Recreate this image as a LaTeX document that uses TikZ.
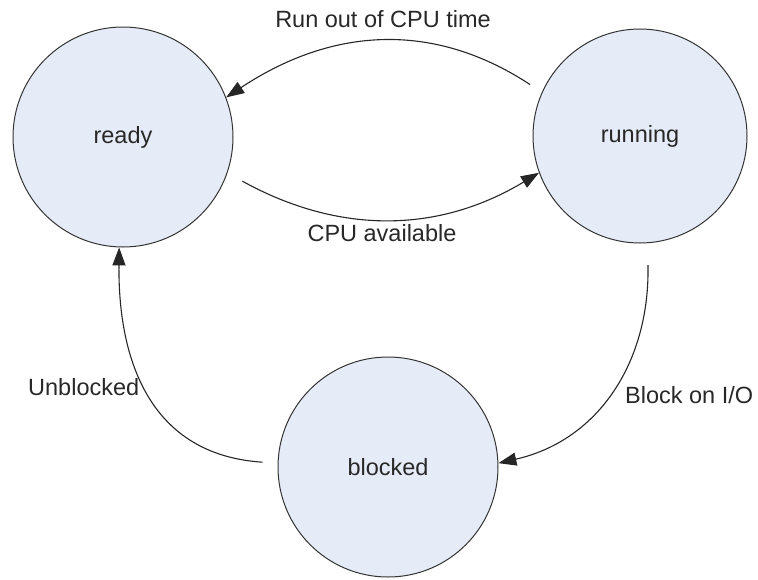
\documentclass[tikz,border=0pt]{standalone}
\usepackage{fontspec}
\setmainfont{Liberation Sans}
\usetikzlibrary{arrows.meta}
\definecolor{statefill}{RGB}{230,236,247}
\definecolor{txt}{RGB}{40,40,40}
\tikzset{
  state/.style={circle, draw=black!80, line width=1pt, fill=statefill, minimum size=220pt, inner sep=0pt, text=txt, font=\fontsize{23.5}{26}\selectfont},
  conn/.style={draw=black!85, line width=1.1pt, -{Triangle[length=18pt,width=13pt]}},
  lbl/.style={text=txt, font=\fontsize{23.5}{26}\selectfont, inner sep=0pt}
}
\begin{document}
\begin{tikzpicture}[x=1pt,y=-1pt]
\useasboundingbox (0,0) rectangle (758,579);
\node[state] (ready) at (123,137) {ready};
\node[state, minimum size=214pt] (running) at (640,136) {running};
\node[state] (blocked) at (388,467) {blocked};

\draw[conn, shorten <=14pt] (running.156) .. controls (435,22) and (334,26) .. (ready.21);
\draw[conn, shorten <=17pt] (ready.-19) .. controls (340,235) and (439,233) .. (running.200);
\draw[conn, shorten <=22pt] (running.-86) .. controls (650,360) and (600,440) .. (blocked.2);
\draw[conn, shorten <=15pt] (blocked.178) .. controls (150,455) and (118,360) .. (ready.268);

\node[lbl] (l1) at (383,19) {Run out of CPU time};
\node[lbl] (l2) at (382,233) {CPU available};
\node[lbl, anchor=west] (l3) at (625,395) {Block on I/O};
\node[lbl, anchor=west] (l4) at (28,387) {Unblocked};
\end{tikzpicture}
\end{document}
